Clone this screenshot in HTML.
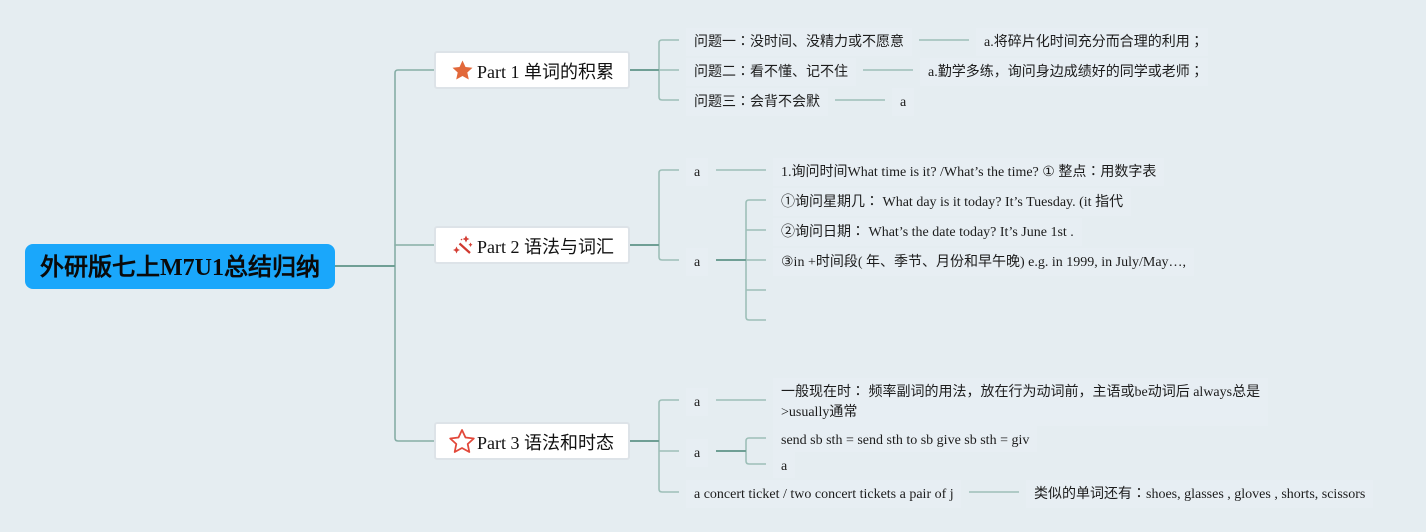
<!DOCTYPE html>
<html>
<head>
<meta charset="utf-8">
<style>
html,body{margin:0;padding:0;width:1426px;height:532px;overflow:hidden;background:#e5edf1;}
body{position:relative;font-family:"Liberation Serif","WenQuanYi Zen Hei",serif;color:#111;}
svg{position:absolute;left:0;top:0;}
.t{position:absolute;white-space:nowrap;font-size:14px;line-height:20px;height:20px;color:#1c1c1c;}
.t i{font-style:normal;font-family:"Noto Sans CJK TC",sans-serif;line-height:1;}
.bg{position:absolute;background:#e7eef3;}
.root{position:absolute;left:25px;top:244px;width:310px;height:45px;background:#1aa7fb;border-radius:8px;font-size:24px;font-weight:bold;line-height:49px;text-align:center;color:#0a0a0a;white-space:nowrap;}
.part{position:absolute;left:434px;width:192px;height:34px;background:#fff;border:2px solid #dde3e8;border-radius:3px;}
.p{position:absolute;white-space:nowrap;font-size:18px;line-height:24px;height:24px;left:477px;color:#111;}
</style>
</head>
<body>
<div class="bg" style="left:686px;top:28px;width:226px;height:28px"></div>
<div class="bg" style="left:976px;top:28px;width:232px;height:28px"></div>
<div class="bg" style="left:686px;top:58px;width:170px;height:28px"></div>
<div class="bg" style="left:920px;top:58px;width:288px;height:28px"></div>
<div class="bg" style="left:686px;top:88px;width:142px;height:28px"></div>
<div class="bg" style="left:892px;top:88px;width:22px;height:28px"></div>
<div class="bg" style="left:686px;top:158px;width:22px;height:28px"></div>
<div class="bg" style="left:773px;top:158px;width:391px;height:28px"></div>
<div class="bg" style="left:773px;top:188px;width:358px;height:28px"></div>
<div class="bg" style="left:773px;top:218px;width:309px;height:28px"></div>
<div class="bg" style="left:686px;top:248px;width:22px;height:28px"></div>
<div class="bg" style="left:773px;top:248px;width:421px;height:28px"></div>
<div class="bg" style="left:686px;top:388px;width:22px;height:28px"></div>
<div class="bg" style="left:773px;top:378px;width:495px;height:48px"></div>
<div class="bg" style="left:686px;top:439px;width:22px;height:28px"></div>
<div class="bg" style="left:773px;top:426px;width:264px;height:26px"></div>
<div class="bg" style="left:773px;top:452px;width:22px;height:26px"></div>
<div class="bg" style="left:686px;top:480px;width:275px;height:28px"></div>
<div class="bg" style="left:1026px;top:480px;width:347px;height:28px"></div>

<svg width="1426" height="532" viewBox="0 0 1426 532" fill="none">
  <g stroke="#86aea6" stroke-width="1.6" stroke-linecap="round">
    <path d="M434 70H398Q395 70 395 73V438Q395 441 398 441H434"/>
    <path d="M395 245H434"/>
  </g>
  <path d="M335 266H395" stroke="#6f9f95" stroke-width="2"/>
  <g stroke="#9dbfb8" stroke-width="1.6">
    <path d="M679 40H662Q659 40 659 43V97Q659 100 662 100H679"/>
    <path d="M659 70H679"/>
    <path d="M919 40H969M863 70H913M835 100H885"/>
    <path d="M679 170H662Q659 170 659 173V257Q659 260 662 260H679"/>
    <path d="M716 170H766"/>
    <path d="M766 200H749Q746 200 746 203V317Q746 320 749 320H766"/>
    <path d="M746 230H766M746 260H766M746 290H766"/>
    <path d="M679 400H662Q659 400 659 403V489Q659 492 662 492H679"/>
    <path d="M659 451H679"/>
    <path d="M716 400H766"/>
    <path d="M766 438H749Q746 438 746 441V461Q746 464 749 464H766"/>
    <path d="M969 492H1019"/>
  </g>
  <g stroke="#6f9f95" stroke-width="2">
    <path d="M630 70H659M630 245H659M630 441H659"/>
    <path d="M716 260H746M716 451H746"/>
  </g>
</svg>

<div class="root">外研版七上M7U1总结归纳</div>

<div class="part" style="top:51px"></div>
<div class="part" style="top:226px"></div>
<div class="part" style="top:422px"></div>

<svg width="1426" height="532" viewBox="0 0 1426 532">
  <polygon points="462.500,60.500 465.500,67 472.500,67.800 467.300,72.500 468.800,79.500 462.500,76 456.200,79.500 457.700,72.500 452.500,67.800 459.500,67" fill="#e2683a"/>
  <path d="M459.500 243.500L470 253" stroke="#d0392f" stroke-width="2.200" fill="none"/>
  <g fill="#d43f35">
    <polygon points="456.500,246.500 457.700,249 460,250 457.700,251 456.500,253.500 455.300,251 453,250 455.300,249"/>
    <polygon points="466,235.500 467.200,238 469.500,239 467.200,240 466,242.500 464.800,240 462.500,239 464.800,238"/>
    <polygon points="470.500,242.500 471.300,244 472.500,244.700 471.300,245.400 470.500,247 469.700,245.400 468.500,244.700 469.700,244"/>
    <circle cx="461.500" cy="239.500" r="0.800"/>
  </g>
  <polygon points="462,430 465.500,437.500 473.800,438.500 467.700,444 469.300,452 462,448 454.700,452 456.300,444 450.200,438.500 458.500,437.500" fill="#fff" stroke="#e2483a" stroke-width="1.800" stroke-linejoin="round"/>
</svg>

<div class="p" style="top:60px">Part 1 单词的积累</div>
<div class="p" style="top:235px">Part 2 语法与词汇</div>
<div class="p" style="top:431px">Part 3 语法和时态</div>

<div class="t" style="left:694px;top:33px">问题一<i>：</i>没时间、没精力或不愿意</div>
<div class="t" style="left:984px;top:33px">a.将碎片化时间充分而合理的利用<i>；</i></div>
<div class="t" style="left:694px;top:63px">问题二<i>：</i>看不懂、记不住</div>
<div class="t" style="left:928px;top:63px">a.勤学多练，询问身边成绩好的同学或老师<i>；</i></div>
<div class="t" style="left:694px;top:93px">问题三<i>：</i>会背不会默</div>
<div class="t" style="left:900px;top:93px">a</div>

<div class="t" style="left:694px;top:163px">a</div>
<div class="t" style="left:781px;top:163px">1.询问时间What time is it? /What’s the time? ① 整点<i>：</i>用数字表</div>
<div class="t" style="left:781px;top:193px">①询问星期几<i>：</i> What day is it today? It’s Tuesday. (it 指代</div>
<div class="t" style="left:781px;top:223px">②询问日期<i>：</i> What’s the date today? It’s June 1st .</div>
<div class="t" style="left:694px;top:253px">a</div>
<div class="t" style="left:781px;top:253px">③in +时间段( 年、季节、月份和早午晚) e.g. in 1999, in July/May…,</div>

<div class="t" style="left:694px;top:393px">a</div>
<div class="t" style="left:781px;top:383px">一般现在时<i>：</i> 频率副词的用法，放在行为动词前，主语或be动词后 always总是</div>
<div class="t" style="left:781px;top:403px">&gt;usually通常</div>
<div class="t" style="left:694px;top:444px">a</div>
<div class="t" style="left:781px;top:431px">send sb sth = send sth to sb give sb sth = giv</div>
<div class="t" style="left:781px;top:457px">a</div>
<div class="t" style="left:694px;top:485px">a concert ticket / two concert tickets a pair of j</div>
<div class="t" style="left:1034px;top:485px">类似的单词还有<i>：</i>shoes, glasses , gloves , shorts, scissors</div>
</body>
</html>
